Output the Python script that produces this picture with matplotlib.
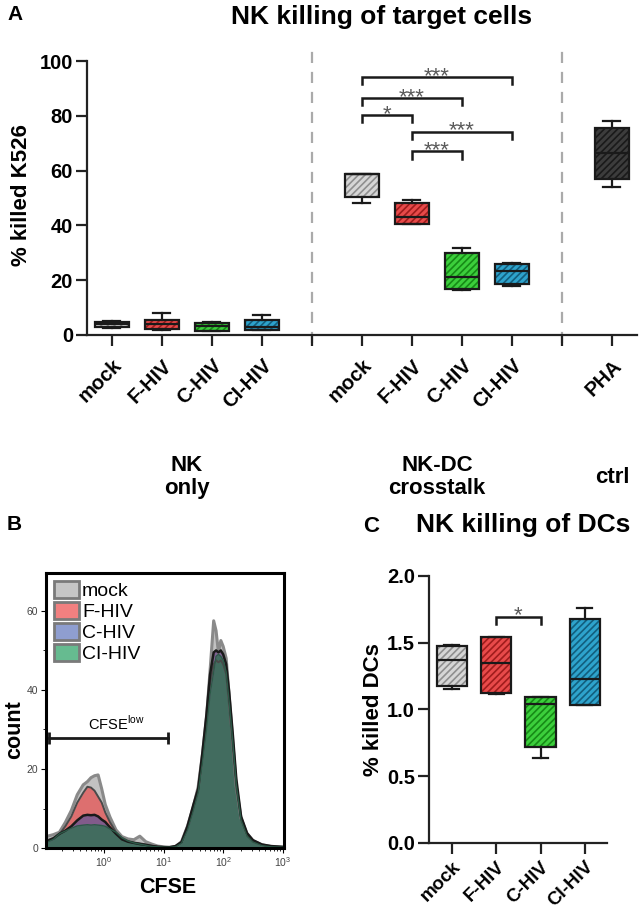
import numpy as np
import matplotlib
matplotlib.use('Agg')
import matplotlib.pyplot as plt
import matplotlib.transforms as mtransforms
from matplotlib.patches import Patch, PathPatch

plt.rcParams['font.family'] = ['Liberation Sans', 'DejaVu Sans']
plt.rcParams['mathtext.fontset'] = 'custom'
plt.rcParams['mathtext.rm'] = 'Liberation Sans'
plt.rcParams['hatch.linewidth'] = 1.2

# ---------------- data ----------------
# panel A: % killed K526, box stats per condition
a_groups = ['NK\nonly', 'NK-DC\ncrosstalk', 'ctrl']
a_group_sizes = [4, 4, 1]
a_labels = ['mock', 'F-HIV', 'C-HIV', 'CI-HIV', 'mock', 'F-HIV', 'C-HIV', 'CI-HIV', 'PHA']
a_whislo = [2.6, 1.9, 1.4, 1.8, 48.3, 40.5, 16.5, 17.9, 53.9]
a_q1 = [2.8, 2.1, 1.6, 2.0, 50.4, 40.6, 16.9, 18.5, 56.8]
a_med = [4.0, 4.0, 3.4, 3.0, 58.6, 42.9, 21.3, 23.2, 66.6]
a_q3 = [4.9, 5.5, 4.5, 5.5, 58.8, 48.1, 29.8, 25.8, 75.7]
a_whishi = [5.0, 7.9, 4.6, 7.2, 58.8, 49.1, 31.8, 26.2, 78.2]
# significance brackets (box index from, box index to, height, stars)
a_sig_from = [4, 4, 4, 5, 5]
a_sig_to = [7, 6, 5, 7, 6]
a_sig_y = [94.2, 86.5, 80.3, 74.2, 67.0]
a_sig_txt = ['***', '***', '*', '***', '***']

# panel B: CFSE histograms (log10 CFSE, counts)
cfse_log = [-0.95, -0.85, -0.75, -0.65, -0.55, -0.45, -0.35, -0.28, -0.22, -0.16,
            -0.10, -0.04, 0.02, 0.10, 0.20, 0.30, 0.40, 0.50, 0.60, 0.70,
            0.80, 0.90, 1.00, 1.10, 1.20, 1.30, 1.40, 1.50, 1.58, 1.65,
            1.72, 1.78, 1.84, 1.88, 1.92, 1.96, 2.00, 2.05, 2.10, 2.16,
            2.22, 2.30, 2.40, 2.50, 2.65, 2.80, 3.00]
cnt_mock = [3.0, 3.4, 4.0, 6.5, 9.5, 13.5, 16.0, 16.8, 17.8, 18.3,
            18.5, 15.0, 11.0, 7.8, 4.6, 2.9, 2.3, 2.1, 3.0, 1.6,
            1.0, 0.5, 0.3, 0.2, 0.4, 1.6, 5.5, 10.5, 15.5, 23.5,
            33.0, 45.0, 57.5, 55.0, 49.5, 52.5, 51.0, 48.0, 38.5, 27.0,
            15.5, 7.5, 3.5, 1.8, 0.8, 0.4, 0.2]
cnt_fhiv = [2.0, 2.6, 3.5, 5.5, 8.0, 11.5, 14.0, 15.5, 15.3, 14.5,
            13.0, 11.5, 9.0, 6.5, 4.0, 2.6, 1.8, 1.4, 1.2, 0.9,
            0.6, 0.4, 0.3, 0.2, 0.4, 1.5, 5.0, 10.0, 14.5, 22.5,
            31.5, 41.5, 46.5, 47.5, 47.0, 47.5, 46.5, 44.0, 36.0, 25.5,
            15.0, 7.0, 3.2, 1.6, 0.7, 0.3, 0.2]
cnt_chiv = [1.8, 2.4, 3.6, 4.4, 5.5, 7.0, 8.2, 8.4, 8.3, 8.4,
            8.0, 7.2, 6.6, 5.2, 3.6, 2.2, 1.6, 1.3, 1.0, 0.8,
            0.5, 0.3, 0.2, 0.2, 0.5, 1.5, 5.5, 11.0, 15.0, 24.0,
            34.0, 44.0, 49.5, 50.0, 49.5, 50.0, 49.0, 46.5, 39.5, 29.0,
            17.5, 8.0, 3.8, 2.0, 0.9, 0.5, 0.3]
cnt_clhiv = [1.5, 2.2, 3.6, 4.3, 5.0, 5.6, 5.8, 5.9, 5.8, 5.9,
             5.8, 5.7, 5.5, 4.8, 4.0, 2.6, 1.8, 1.3, 1.0, 0.7,
             0.4, 0.3, 0.2, 0.2, 0.3, 1.2, 4.5, 9.5, 14.0, 21.5,
             30.0, 39.0, 44.5, 48.5, 49.0, 48.5, 47.5, 44.5, 37.0, 27.0,
             16.0, 7.0, 3.0, 1.5, 0.6, 0.3, 0.2]
b_names = ['mock', 'F-HIV', 'C-HIV', 'CI-HIV']
gate_lo, gate_hi, gate_y = 0.12, 12.0, 27.8

# panel C: % killed DCs
c_labels = ['mock', 'F-HIV', 'C-HIV', 'CI-HIV']
c_whislo = [1.15, 1.115, 0.637, 1.03]
c_q1 = [1.178, 1.126, 0.721, 1.03]
c_med = [1.374, 1.35, 1.041, 1.228]
c_q3 = [1.478, 1.543, 1.091, 1.68]
c_whishi = [1.48, 1.545, 1.095, 1.762]
c_sig_from, c_sig_to, c_sig_y, c_sig_txt = [1], [2], [1.694], ['*']

# ---------------- styles ----------------
box_fill = {'mock': '#d6d6d6', 'F-HIV': '#e84a4a', 'C-HIV': '#3ccf3c',
            'CI-HIV': '#2ea3cc', 'PHA': '#3c3c3c'}
box_hatch = {'mock': '#8f8f8f', 'F-HIV': '#a01c1c', 'C-HIV': '#168a16',
             'CI-HIV': '#125f7e', 'PHA': '#1a1a1a'}
hist_fill = {'mock': '#bdbdbd', 'F-HIV': '#e06868', 'C-HIV': '#7a5a8e', 'CI-HIV': '#3d6e5c'}
hist_edge = {'mock': '#8a8a8a', 'F-HIV': '#4a4a4a', 'C-HIV': '#1a1a1a', 'CI-HIV': '#2c5a48'}
hist_lw = {'mock': 2.2, 'F-HIV': 1.4, 'C-HIV': 1.8, 'CI-HIV': 1.0}
leg_fill = {'mock': '#c6c6c6', 'F-HIV': '#f28080', 'C-HIV': '#8f9ed0', 'CI-HIV': '#66bb90'}
dark = '#1a1a1a'


def draw_boxes(ax, pos, labels, lo, q1, med, q3, hi, width):
    stats = [dict(whislo=a, q1=b, med=c, q3=d, whishi=e)
             for a, b, c, d, e in zip(lo, q1, med, q3, hi)]
    bp = ax.bxp(stats, positions=pos, widths=width, capwidths=width * 0.5,
                patch_artist=True, showfliers=False,
                boxprops=dict(linewidth=0),
                whiskerprops=dict(color=dark, linewidth=1.6),
                capprops=dict(color=dark, linewidth=1.6),
                medianprops=dict(color=dark, linewidth=1.6))
    for box, lab in zip(bp['boxes'], labels):
        box.set_facecolor(box_fill[lab])
        box.set_edgecolor(box_hatch[lab])
        box.set_hatch('/////')
        ax.add_patch(PathPatch(box.get_path(), fc='none', ec=dark, lw=1.6,
                               zorder=box.get_zorder() + 0.05))


def draw_sig(ax, pos, i_from, i_to, ys, txts, drop, txt_off, fs):
    for a, b, y, t in zip(i_from, i_to, ys, txts):
        x1, x2 = pos[a], pos[b]
        ax.plot([x1, x1, x2, x2], [y - drop, y, y, y - drop], color=dark, lw=1.8,
                solid_joinstyle='miter')
        ax.text((x1 + x2) / 2, y + txt_off, t, ha='center', va='baseline',
                fontsize=fs, color='#5a5a5a')


def style_box_axes(ax):
    for s in ['top', 'right']:
        ax.spines[s].set_visible(False)
    for s in ['left', 'bottom']:
        ax.spines[s].set_linewidth(1.6)
        ax.spines[s].set_color('#222222')
    ax.tick_params(width=1.6, length=8, color='#222222')
    ax.tick_params(axis='y', labelsize=14.5, pad=2)
    for t in ax.get_yticklabels():
        t.set_fontweight('bold')


fig = plt.figure(figsize=(6.41, 9.16), dpi=100)

# ---------------- panel A ----------------
axA = fig.add_axes([0.1357, 0.6343, 0.858, 0.2991])
a_pos, tick_pos, tick_lab, seps, centers = [], [], [], [], []
p = 1
for g, n in enumerate(a_group_sizes):
    grp = list(range(p, p + n))
    a_pos += grp
    centers.append(np.mean(grp))
    p += n
    if g < len(a_group_sizes) - 1:
        seps.append(p)
        p += 1
for q in range(1, p):
    tick_pos.append(q)
    tick_lab.append(a_labels[a_pos.index(q)] if q in a_pos else '')

draw_boxes(axA, a_pos, a_labels, a_whislo, a_q1, a_med, a_q3, a_whishi, 0.68)
draw_sig(axA, a_pos, a_sig_from, a_sig_to, a_sig_y, a_sig_txt, 2.6, -1.8, 16)
for s in seps:
    axA.axvline(s, ymin=-0.03, ymax=1.035, color='#aaaaaa', lw=1.6,
                ls=(0, (5, 4)), clip_on=False, zorder=1)
axA.set_xlim(0.5, p - 0.5)
axA.set_ylim(0, 100)
axA.set_yticks([0, 20, 40, 60, 80, 100])
axA.set_xticks(tick_pos)
axA.set_xticklabels(tick_lab, rotation=45, ha='right', rotation_mode='anchor',
                    fontsize=14.5, fontweight='bold')
style_box_axes(axA)
axA.tick_params(axis='x', pad=7)

trA = mtransforms.blended_transform_factory(axA.transData, fig.transFigure)
for c, g in zip(centers, a_groups):
    axA.text(c, 0.479, g, transform=trA, ha='center', va='center', fontsize=16,
             fontweight='bold', linespacing=1.1)
fig.text(0.034, 0.787, '% killed K526', rotation=90, ha='center', va='center',
         fontsize=16, fontweight='bold')
fig.text(0.596, 0.981, 'NK killing of target cells', ha='center', va='center',
         fontsize=19, fontweight='bold')
fig.text(0.011, 0.984, 'A', ha='left', va='center', fontsize=15, fontweight='bold')

# ---------------- panel B ----------------
axB = fig.add_axes([0.0718, 0.0742, 0.3713, 0.3003])
xb = 10 ** np.array(cfse_log)
b_counts = [cnt_mock, cnt_fhiv, cnt_chiv, cnt_clhiv]
for name, cnt in zip(b_names, b_counts):
    axB.fill_between(xb, cnt, color=hist_fill[name], alpha=0.92, lw=0)
for name, cnt in zip(b_names, b_counts):
    axB.plot(xb, cnt, color=hist_edge[name], lw=hist_lw[name])
axB.plot([gate_lo, gate_hi], [gate_y, gate_y], color=dark, lw=2, marker='|',
         ms=9, mew=2)
axB.text(1.6, gate_y + 1.3, r'CFSE$^{\mathrm{low}}$', ha='center', va='bottom',
         fontsize=10.5)
axB.set_xscale('log')
axB.set_xlim(0.106, 1050)
axB.set_ylim(0, 69.6)
axB.set_yticks([0, 20, 40, 60])
axB.set_yticks([10, 30, 50], minor=True)
for s in axB.spines.values():
    s.set_linewidth(2.2)
axB.tick_params(labelsize=7.5, labelcolor='#444444', width=0.8, length=3.5, pad=2)
axB.tick_params(which='minor', width=0.6, length=2)
handles = [Patch(fc=leg_fill[n], ec='#7a7a7a', lw=2) for n in b_names]
axB.legend(handles, b_names, loc='upper left', frameon=False, fontsize=14,
           handlelength=1.3, handleheight=0.95, handletextpad=0.15,
           labelspacing=0.1, borderpad=0.2, borderaxespad=0.2)
fig.text(0.023, 0.203, 'count', rotation=90, ha='center', va='center',
         fontsize=15.5, fontweight='bold')
fig.text(0.262, 0.031, 'CFSE', ha='center', va='center', fontsize=15.5,
         fontweight='bold')
fig.text(0.011, 0.427, 'B', ha='left', va='center', fontsize=15, fontweight='bold')

# ---------------- panel C ----------------
axC = fig.add_axes([0.669, 0.0797, 0.278, 0.2915])
c_pos = list(range(1, len(c_labels) + 1))
draw_boxes(axC, c_pos, c_labels, c_whislo, c_q1, c_med, c_q3, c_whishi, 0.68)
draw_sig(axC, c_pos, c_sig_from, c_sig_to, c_sig_y, c_sig_txt, 0.057, -0.035, 16)
axC.set_xlim(0.48, 4.5)
axC.set_ylim(0, 2.0)
axC.set_yticks([0, 0.5, 1.0, 1.5, 2.0])
axC.set_yticklabels(['0.0', '0.5', '1.0', '1.5', '2.0'])
axC.set_xticks(c_pos)
axC.set_xticklabels(c_labels, rotation=45, ha='right', rotation_mode='anchor',
                    fontsize=13.5, fontweight='bold')
style_box_axes(axC)
axC.tick_params(axis='x', pad=3)
fig.text(0.582, 0.225, '% killed DCs', rotation=90, ha='center', va='center',
         fontsize=16, fontweight='bold')
fig.text(0.816, 0.427, 'NK killing of DCs', ha='center', va='center',
         fontsize=19, fontweight='bold')
fig.text(0.566, 0.425, 'C', ha='left', va='center', fontsize=16, fontweight='bold')

fig.savefig('out.png', dpi=100)
